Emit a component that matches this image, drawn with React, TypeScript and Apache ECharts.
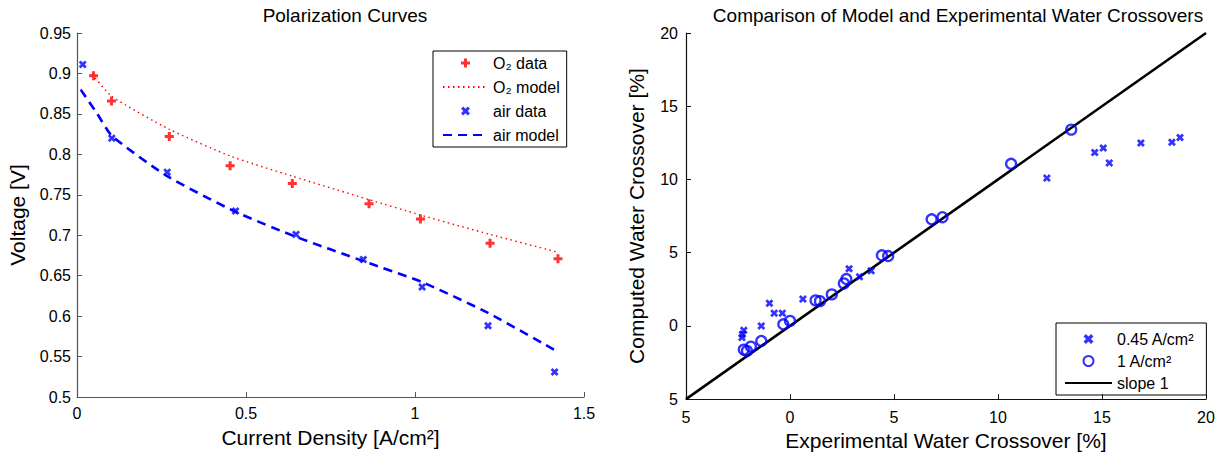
import React, { useEffect, useRef } from "react";
import * as echarts from "echarts";

// ---- Left chart: Polarization Curves ----
const o2DataX = [0.049, 0.102, 0.273, 0.453, 0.637, 0.864, 1.016, 1.222, 1.423];
const o2DataY = [0.897, 0.866, 0.822, 0.786, 0.764, 0.739, 0.72, 0.69, 0.671];
const o2ModelX = [0.045, 0.102, 0.273, 0.453, 0.637, 0.864, 1.016, 1.222, 1.423];
const o2ModelY = [0.899, 0.872, 0.831, 0.798, 0.773, 0.744, 0.725, 0.701, 0.679];
const airDataX = [0.017, 0.103, 0.267, 0.469, 0.648, 0.847, 1.021, 1.216, 1.413];
const airDataY = [0.911, 0.82, 0.778, 0.73, 0.701, 0.67, 0.636, 0.588, 0.531];
const airModelX = [0.011, 0.06, 0.103, 0.267, 0.469, 0.648, 0.847, 1.021, 1.216, 1.413];
const airModelY = [0.88, 0.85, 0.823, 0.773, 0.729, 0.698, 0.668, 0.642, 0.604, 0.558];

// ---- Right chart: Water crossover comparison ----
const low045X = [-2.22, -2.29, -2.31, -1.38, -0.99, -0.76, -0.37, 0.62, 2.84, 3.34, 3.9, 12.35, 14.65, 15.06, 15.35, 16.87, 18.36, 18.75];
const low045Y = [-0.3, -0.57, -0.8, 0.0, 1.55, 0.87, 0.87, 1.83, 3.9, 3.36, 3.77, 10.09, 11.84, 12.15, 11.13, 12.49, 12.54, 12.86];
const high1X = [-2.22, -2.07, -1.88, -1.38, -0.32, 0.0, 1.23, 1.44, 2.01, 2.59, 2.71, 4.42, 4.72, 6.81, 7.33, 10.63, 13.52];
const high1Y = [-1.62, -1.71, -1.42, -1.03, 0.11, 0.34, 1.74, 1.69, 2.15, 2.9, 3.2, 4.82, 4.77, 7.28, 7.42, 11.07, 13.4];
const slopeX = [-5, 20];
const slopeY = [-5, 20];

const zip = (xs: number[], ys: number[]) => xs.map((x, i) => [x, ys[i]]);

const FONT = "'Liberation Sans', Arial, Helvetica, sans-serif";
const PLUS = "path://M3,0H6V3H9V6H6V9H3V6H0V3H3Z";
const CROSS = "path://M0,2.2L2.2,0L4.5,2.3L6.8,0L9,2.2L6.7,4.5L9,6.8L6.8,9L4.5,6.7L2.2,9L0,6.8L2.3,4.5Z";
const HIDDEN = { color: "rgba(0,0,0,0)", borderColor: "rgba(0,0,0,0)", borderWidth: 0, opacity: 0 };

export default function App() {
  const ref = useRef<HTMLDivElement>(null);
  useEffect(() => {
    if (!ref.current) return;
    const chart = echarts.init(ref.current, undefined, { renderer: "svg" });
    const leftAxisColor = "#555";
    const rightAxisColor = "#111";
    const tickLabel = { color: "#000", fontSize: 16, fontFamily: FONT };
    const nameStyle = { color: "#000", fontSize: 21, fontFamily: FONT };
    chart.setOption({
      animation: false,
      backgroundColor: "#fff",
      textStyle: { fontFamily: FONT },
      title: [
        {
          text: "Polarization Curves",
          left: 345,
          top: 6,
          textAlign: "center",
          padding: 0,
          textStyle: { fontSize: 19, fontWeight: "normal", color: "#000", fontFamily: FONT },
        },
        {
          text: "Comparison of Model and Experimental Water Crossovers",
          left: 958,
          top: 6,
          textAlign: "center",
          padding: 0,
          textStyle: { fontSize: 19, fontWeight: "normal", color: "#000", fontFamily: FONT },
        },
      ],
      legend: [
        {
          data: [
            { name: "O₂ data" },
            { name: "O₂ model", itemStyle: HIDDEN },
            { name: "air data" },
            { name: "air model", itemStyle: HIDDEN },
          ],
          orient: "vertical",
          left: 433,
          top: 51,
          padding: [3, 7, 3, 9],
          itemGap: 6,
          itemWidth: 45,
          itemHeight: 9,
          borderColor: "#000",
          borderWidth: 1,
          textStyle: { fontSize: 16, lineHeight: 18, color: "#000", fontFamily: FONT },
        },
        {
          data: [
            { name: "0.45 A/cm²" },
            { name: "1 A/cm²" },
            { name: "slope 1", itemStyle: HIDDEN },
          ],
          orient: "vertical",
          left: 1056,
          top: 323,
          padding: [7, 12, 3, 8],
          itemGap: 4,
          itemWidth: 47,
          itemHeight: 10,
          borderColor: "#000",
          borderWidth: 1,
          textStyle: { fontSize: 16, lineHeight: 18, color: "#000", fontFamily: FONT },
        },
      ],
      grid: [
        { left: 77, top: 33, width: 507, height: 364 },
        { left: 686, top: 33, width: 520, height: 367 },
      ],
      xAxis: [
        {
          gridIndex: 0,
          type: "value",
          min: 0,
          max: 1.5,
          interval: 0.5,
          name: "Current Density [A/cm²]",
          nameLocation: "middle",
          nameGap: 30,
          nameTextStyle: nameStyle,
          axisLine: { show: true, lineStyle: { color: leftAxisColor, width: 1.2 } },
          axisTick: { show: true, inside: true, length: 5, lineStyle: { color: leftAxisColor } },
          axisLabel: { ...tickLabel, margin: 8 },
          splitLine: { show: false },
        },
        {
          gridIndex: 1,
          type: "value",
          min: -5,
          max: 20,
          interval: 5,
          name: "Experimental Water Crossover [%]",
          nameLocation: "middle",
          nameGap: 28,
          nameTextStyle: nameStyle,
          axisLine: { show: true, onZero: false, lineStyle: { color: rightAxisColor, width: 1.2 } },
          axisTick: { show: true, inside: true, length: 5, lineStyle: { color: rightAxisColor } },
          axisLabel: { ...tickLabel, margin: 10, formatter: (v: number) => String(Math.abs(v)) },
          splitLine: { show: false },
        },
      ],
      yAxis: [
        {
          gridIndex: 0,
          type: "value",
          min: 0.5,
          max: 0.95,
          interval: 0.05,
          name: "Voltage [V]",
          nameLocation: "middle",
          nameGap: 49,
          nameTextStyle: nameStyle,
          axisLine: { show: true, lineStyle: { color: leftAxisColor, width: 1.2 } },
          axisTick: { show: true, inside: true, length: 5, lineStyle: { color: leftAxisColor } },
          axisLabel: { ...tickLabel, margin: 6 },
          splitLine: { show: false },
        },
        {
          gridIndex: 1,
          type: "value",
          min: -5,
          max: 20,
          interval: 5,
          name: "Computed Water Crossover [%]",
          nameLocation: "middle",
          nameGap: 39,
          nameTextStyle: nameStyle,
          axisLine: { show: true, onZero: false, lineStyle: { color: rightAxisColor, width: 1.2 } },
          axisTick: { show: true, inside: true, length: 5, lineStyle: { color: rightAxisColor } },
          axisLabel: { ...tickLabel, margin: 8, formatter: (v: number) => String(Math.abs(v)) },
          splitLine: { show: false },
        },
      ],
      series: [
        {
          name: "O₂ model",
          type: "line",
          xAxisIndex: 0,
          yAxisIndex: 0,
          data: zip(o2ModelX, o2ModelY),
          symbol: "none",
          smooth: 0.2,
          lineStyle: { color: "#ff0000", width: 1.4, type: [1.5, 3.5] },
          itemStyle: { color: "#ff0000" },
          z: 2,
        },
        {
          name: "air model",
          type: "line",
          xAxisIndex: 0,
          yAxisIndex: 0,
          data: zip(airModelX, airModelY),
          symbol: "none",
          smooth: 0.2,
          lineStyle: { color: "#0000ff", width: 2.6, type: [9, 6] },
          itemStyle: { color: "#0000ff" },
          z: 2,
        },
        {
          name: "O₂ data",
          type: "scatter",
          xAxisIndex: 0,
          yAxisIndex: 0,
          data: zip(o2DataX, o2DataY),
          symbol: PLUS,
          symbolSize: 9,
          itemStyle: { color: "#ff0000" },
          z: 3,
        },
        {
          name: "air data",
          type: "scatter",
          xAxisIndex: 0,
          yAxisIndex: 0,
          data: zip(airDataX, airDataY),
          symbol: CROSS,
          symbolSize: 8,
          itemStyle: { color: "#0000ff" },
          z: 3,
        },
        {
          name: "slope 1",
          type: "line",
          xAxisIndex: 1,
          yAxisIndex: 1,
          data: zip(slopeX, slopeY),
          symbol: "none",
          lineStyle: { color: "#000", width: 2.6 },
          itemStyle: { color: "#000" },
          z: 2,
        },
        {
          name: "0.45 A/cm²",
          type: "scatter",
          xAxisIndex: 1,
          yAxisIndex: 1,
          data: zip(low045X, low045Y),
          symbol: CROSS,
          symbolSize: 8,
          itemStyle: { color: "#0000ff" },
          z: 3,
        },
        {
          name: "1 A/cm²",
          type: "scatter",
          xAxisIndex: 1,
          yAxisIndex: 1,
          data: zip(high1X, high1Y),
          symbol: "circle",
          symbolSize: 10,
          itemStyle: { color: "rgba(0,0,0,0)", borderColor: "#0000ff", borderWidth: 2.3 },
          z: 3,
        },
      ],
    });
    return () => chart.dispose();
  }, []);
  return (
    <div
      ref={ref}
      style={{ position: "fixed", left: 0, top: 0, width: 1227, height: 456, background: "#fff" }}
    />
  );
}
